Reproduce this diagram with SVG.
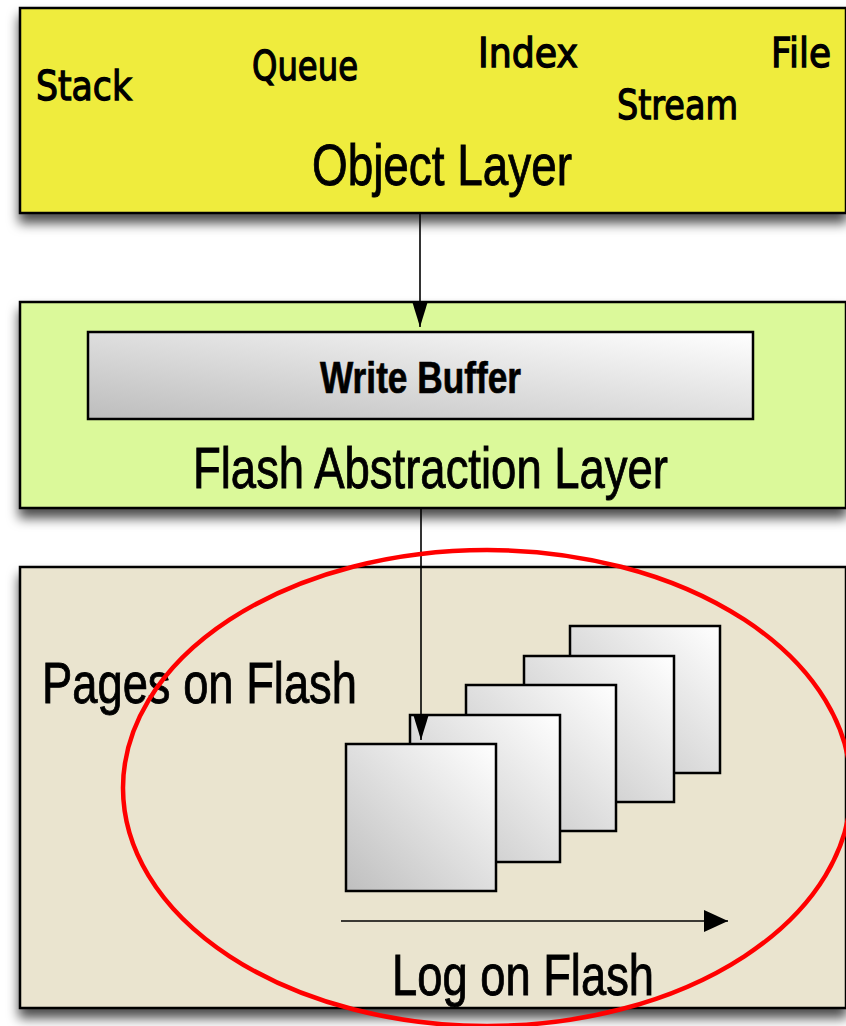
<svg xmlns="http://www.w3.org/2000/svg" width="846" height="1026" viewBox="0 0 846 1026">
  <style>
    .layer { stroke: #000; stroke-width: 2.5; filter: url(#shadow); }
    .obj { font-family: "DejaVu Sans", "Liberation Sans", sans-serif; font-size: 40px; fill: #000; stroke: #000; stroke-width: 1.3; }
    .title { font-family: "Liberation Sans", Arial, sans-serif; font-size: 58px; fill: #000; stroke: #000; stroke-width: 0.9; }
    .page { fill: url(#pageGrad); stroke: #000; stroke-width: 2.5; }
    .wire { stroke: #000; stroke-width: 1.6; fill: none; }
  </style>
  <defs>
    <filter id="shadow" x="-5%" y="-10%" width="115%" height="130%">
      <feDropShadow dx="0" dy="9" stdDeviation="6" flood-color="#000" flood-opacity="0.7"/>
    </filter>
    <linearGradient id="bufGrad" x1="0" y1="1" x2="1" y2="0">
      <stop offset="0" stop-color="#bdbdbd"/>
      <stop offset="1" stop-color="#ffffff"/>
    </linearGradient>
    <linearGradient id="pageGrad" x1="0" y1="1" x2="1" y2="0">
      <stop offset="0" stop-color="#bfbfbf"/>
      <stop offset="1" stop-color="#ffffff"/>
    </linearGradient>
    <marker id="arrow" viewBox="0 0 26 18" refX="26" refY="9" markerWidth="26" markerHeight="18" markerUnits="userSpaceOnUse" orient="auto">
      <path d="M0,1 L26,9 L0,17 Z" fill="#000"/>
    </marker>
    <marker id="arrowWide" viewBox="0 0 24 22" refX="24" refY="11" markerWidth="24" markerHeight="22" markerUnits="userSpaceOnUse" orient="auto">
      <path d="M0,0 L24,11 L0,22 Z" fill="#000"/>
    </marker>
  </defs>

  <rect width="846" height="1026" fill="#fff"/>

  <!-- Object layer -->
  <g id="object-layer">
    <rect class="layer" x="20" y="8" width="826" height="205" fill="#efec3c"/>
    <text class="obj" x="36" y="100" textLength="96" lengthAdjust="spacingAndGlyphs">Stack</text>
    <text class="obj" x="252" y="80" textLength="106" lengthAdjust="spacingAndGlyphs">Queue</text>
    <text class="obj" x="478" y="67" textLength="100" lengthAdjust="spacingAndGlyphs">Index</text>
    <text class="obj" x="771" y="67" textLength="60" lengthAdjust="spacingAndGlyphs">File</text>
    <text class="obj" x="617" y="119" textLength="121" lengthAdjust="spacingAndGlyphs">Stream</text>
    <text class="title" x="312" y="185" textLength="260" lengthAdjust="spacingAndGlyphs">Object Layer</text>
  </g>

  <!-- Flash abstraction layer with its write buffer -->
  <g id="flash-abstraction-layer">
    <rect class="layer" x="20" y="302" width="826" height="206" fill="#dbf99a"/>
    <text class="title" x="193" y="488" textLength="475" lengthAdjust="spacingAndGlyphs">Flash Abstraction Layer</text>
  </g>
  <g id="write-buffer">
    <rect x="88" y="332" width="665" height="87" fill="url(#bufGrad)" stroke="#000" stroke-width="2.5"/>
    <text x="320" y="393" font-family="Liberation Sans, Arial, sans-serif" font-weight="bold" font-size="45" stroke="#000" stroke-width="0.7" textLength="201" lengthAdjust="spacingAndGlyphs">Write Buffer</text>
  </g>

  <!-- Flash pages -->
  <g id="pages-on-flash">
    <rect class="layer" x="20" y="567" width="826" height="441" fill="#eae4cf"/>
    <text class="title" x="42" y="703" textLength="315" lengthAdjust="spacingAndGlyphs">Pages on Flash</text>
  </g>
  <g id="log-pages">
    <rect class="page" x="570" y="626" width="150" height="147"/>
    <rect class="page" x="524" y="656" width="150" height="146"/>
    <rect class="page" x="466" y="685" width="150" height="146"/>
    <rect class="page" x="410" y="715" width="150" height="147"/>
    <rect class="page" x="346" y="744" width="150" height="147"/>
  </g>
  <g id="log-on-flash">
    <line class="wire" x1="341" y1="921" x2="728" y2="921" marker-end="url(#arrowWide)"/>
    <text class="title" x="392" y="995" textLength="262" lengthAdjust="spacingAndGlyphs">Log on Flash</text>
  </g>

  <!-- Connectors -->
  <g id="connectors">
    <line class="wire" x1="420" y1="213" x2="420" y2="327" marker-end="url(#arrow)"/>
    <line class="wire" x1="421" y1="508" x2="421" y2="740" marker-end="url(#arrow)"/>
  </g>

  <!-- Highlight ring -->
  <g id="highlight">
    <ellipse cx="487" cy="788" rx="364" ry="238" fill="none" stroke="#ff0000" stroke-width="4.5"/>
  </g>
</svg>
